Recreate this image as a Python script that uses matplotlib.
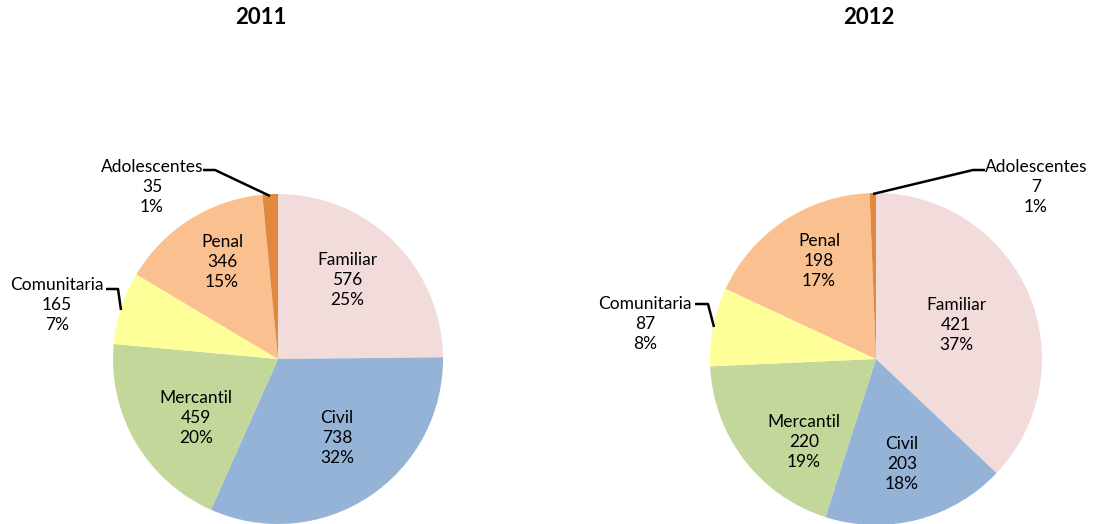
import matplotlib.pyplot as plt

plt.rcParams['font.family'] = ['Lato', 'DejaVu Sans']

categories = ['Familiar', 'Civil', 'Mercantil', 'Comunitaria', 'Penal', 'Adolescentes']
values_2011 = [576, 738, 459, 165, 346, 35]
values_2012 = [421, 203, 220, 87, 198, 7]
pct_2011 = ['25%', '32%', '20%', '7%', '15%', '1%']
pct_2012 = ['37%', '18%', '19%', '8%', '17%', '1%']
colors = ['#F2DCDB', '#95B3D7', '#C4D79B', '#FFFF99', '#FAC090', '#E0883C']

W, H = 1095, 524
fig = plt.figure(figsize=(W / 100, H / 100), dpi=100)
ax = fig.add_axes([0, 0, 1, 1])


def py(y):
    # pixel row (top-down) -> data y
    return H - y


def draw_pie(values, pcts, cx, cy, r, label_pos, leaders, title, title_x):
    ax.pie(values, colors=colors, startangle=90, counterclock=False,
           center=(cx, py(cy)), radius=r,
           wedgeprops=dict(edgecolor='none', linewidth=0))
    for name, v, p, (tx, ty) in zip(categories, values, pcts, label_pos):
        ax.text(tx, py(ty), f"{name}\n{v}\n{p}", ha='center', va='center',
                fontsize=12.5, linespacing=1.3, color='black')
    for pts in leaders:
        ax.plot([p[0] for p in pts], [py(p[1]) for p in pts], color='black', lw=1.8,
                solid_capstyle='butt')
    ax.text(title_x, py(18), title, ha='center', va='center', fontsize=16,
            fontweight='bold')


draw_pie(values_2011, pct_2011, 278, 359, 165,
         [(347, 280), (337, 438), (196, 418), (57, 305), (222, 262), (152, 187)],
         [[(203, 170), (215, 170), (270, 196)], [(106, 289), (118, 289), (121, 310)]],
         '2011', 261)
draw_pie(values_2012, pct_2012, 876, 359, 166,
         [(956, 325), (902, 464), (804, 442), (645, 324), (819, 261), (1036, 187)],
         [[(873, 194), (973, 170), (985, 170)], [(695, 304), (708, 304), (714, 327)]],
         '2012', 869)

ax.set_xlim(0, W)
ax.set_ylim(0, H)
ax.set_aspect('equal')
ax.axis('off')

plt.savefig('out.png', dpi=100)
plt.close()
